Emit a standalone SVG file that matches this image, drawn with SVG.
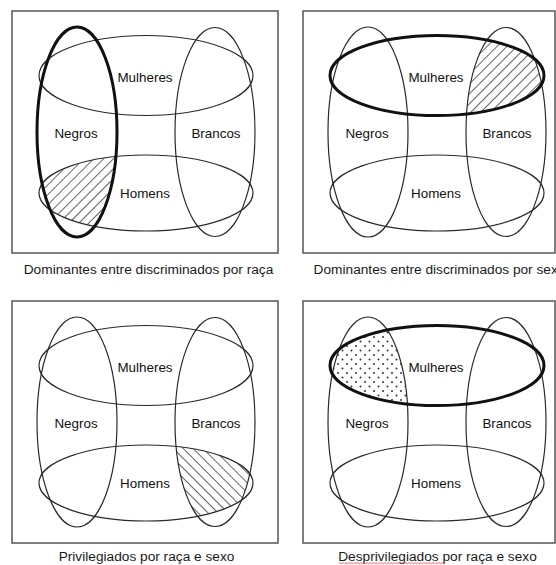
<svg xmlns="http://www.w3.org/2000/svg" width="556" height="565" viewBox="0 0 556 565">
  <style>
    .frame { fill: none; stroke: #555; stroke-width: 1.5; }
    .set { fill: none; stroke: #2a2a2a; stroke-width: 1.2; }
    .bold { fill: none; stroke: #111; stroke-width: 3; }
    .lbl { font-family: "Liberation Sans", Arial, sans-serif; font-size: 13.4px; fill: #111; text-anchor: middle; }
    .cap { font-family: "Liberation Sans", Arial, sans-serif; font-size: 13.7px; fill: #1a1a1a; text-anchor: middle; }
  </style>
  <defs>
    <!-- "/" hatching -->
    <pattern id="hatch-fwd" width="7" height="7" patternUnits="userSpaceOnUse" patternTransform="rotate(45)">
      <line x1="3.5" y1="0" x2="3.5" y2="7" stroke="#555" stroke-width="0.9"/>
    </pattern>
    <!-- "\" hatching -->
    <pattern id="hatch-back" width="7" height="7" patternUnits="userSpaceOnUse" patternTransform="rotate(-45)">
      <line x1="3.5" y1="0" x2="3.5" y2="7" stroke="#555" stroke-width="0.9"/>
    </pattern>
    <!-- dotted fill -->
    <pattern id="dots" width="9" height="9" patternUnits="userSpaceOnUse">
      <circle cx="2" cy="2" r="1" fill="#333"/>
      <circle cx="6.5" cy="6.5" r="1" fill="#333"/>
    </pattern>
    <clipPath id="clip-negros"><ellipse cx="77" cy="132" rx="40" ry="105"/></clipPath>
    <clipPath id="clip-brancos"><ellipse cx="215" cy="132" rx="40" ry="104.5"/></clipPath>
  </defs>

  <!-- Top left: Negros set highlighted, Negros ∩ Homens hatched -->
  <g id="panel-raca">
    <rect class="frame" x="12" y="11" width="266" height="242"/>
    <ellipse cx="146" cy="193" rx="107" ry="38" fill="url(#hatch-fwd)" clip-path="url(#clip-negros)"/>
    <g id="raca-mulheres"><ellipse class="set" cx="146" cy="75.5" rx="107" ry="40"/><text class="lbl" x="145" y="82">Mulheres</text></g>
    <g id="raca-homens"><ellipse class="set" cx="146" cy="193" rx="107" ry="38"/><text class="lbl" x="145" y="198">Homens</text></g>
    <g id="raca-brancos"><ellipse class="set" cx="215" cy="132" rx="40" ry="104.5"/><text class="lbl" x="216" y="138">Brancos</text></g>
    <g id="raca-negros"><ellipse class="bold" cx="77" cy="132" rx="40" ry="105"/><text class="lbl" x="76" y="138">Negros</text></g>
    <text class="cap" x="148.5" y="273.5">Dominantes entre discriminados por raça</text>
  </g>

  <!-- Top right: Mulheres set highlighted, Brancos ∩ Mulheres hatched -->
  <g id="panel-sexo" transform="translate(291,0)">
    <rect class="frame" x="12" y="11" width="252" height="242"/>
    <ellipse cx="146" cy="75.5" rx="107" ry="40" fill="url(#hatch-fwd)" clip-path="url(#clip-brancos)"/>
    <g id="sexo-negros"><ellipse class="set" cx="77" cy="132" rx="40" ry="105"/><text class="lbl" x="76" y="138">Negros</text></g>
    <g id="sexo-brancos"><ellipse class="set" cx="215" cy="132" rx="40" ry="104.5"/><text class="lbl" x="216" y="138">Brancos</text></g>
    <g id="sexo-homens"><ellipse class="set" cx="146" cy="193" rx="107" ry="38"/><text class="lbl" x="145" y="198">Homens</text></g>
    <g id="sexo-mulheres"><ellipse class="bold" cx="146" cy="75.5" rx="107" ry="40"/><text class="lbl" x="145" y="82">Mulheres</text></g>
    <text class="cap" x="148.5" y="273.5">Dominantes entre discriminados por sexo</text>
  </g>

  <!-- Bottom left: Brancos ∩ Homens hatched -->
  <g id="panel-privilegiados" transform="translate(0,290)">
    <rect class="frame" x="12" y="11" width="266" height="242"/>
    <ellipse cx="146" cy="193" rx="107" ry="38" fill="url(#hatch-back)" clip-path="url(#clip-brancos)"/>
    <g id="priv-mulheres"><ellipse class="set" cx="146" cy="75.5" rx="107" ry="40"/><text class="lbl" x="145" y="82">Mulheres</text></g>
    <g id="priv-homens"><ellipse class="set" cx="146" cy="193" rx="107" ry="38"/><text class="lbl" x="145" y="198">Homens</text></g>
    <g id="priv-negros"><ellipse class="set" cx="77" cy="132" rx="40" ry="105"/><text class="lbl" x="76" y="138">Negros</text></g>
    <g id="priv-brancos"><ellipse class="set" cx="215" cy="132" rx="40" ry="104.5"/><text class="lbl" x="216" y="138">Brancos</text></g>
    <text class="cap" x="146.5" y="271">Privilegiados por raça e sexo</text>
  </g>

  <!-- Bottom right: Mulheres highlighted, Negros ∩ Mulheres dotted -->
  <g id="panel-desprivilegiados" transform="translate(291,290)">
    <rect class="frame" x="12" y="11" width="252" height="242"/>
    <ellipse cx="146" cy="75.5" rx="107" ry="40" fill="url(#dots)" clip-path="url(#clip-negros)"/>
    <g id="desp-negros"><ellipse class="set" cx="77" cy="132" rx="40" ry="105"/><text class="lbl" x="76" y="138">Negros</text></g>
    <g id="desp-brancos"><ellipse class="set" cx="215" cy="132" rx="40" ry="104.5"/><text class="lbl" x="216" y="138">Brancos</text></g>
    <g id="desp-homens"><ellipse class="set" cx="146" cy="193" rx="107" ry="38"/><text class="lbl" x="145" y="198">Homens</text></g>
    <g id="desp-mulheres"><ellipse class="bold" cx="146" cy="75.5" rx="107" ry="40"/><text class="lbl" x="145" y="82">Mulheres</text></g>
    <text class="cap" x="146.5" y="271">Desprivilegiados por raça e sexo</text>
    <!-- spell-check squiggle under the first word -->
    <path d="M47.5 273.8 l1.5 -1.2 l1.5 1.2 l1.5 -1.2 l1.5 1.2 l1.5 -1.2 l1.5 1.2 l1.5 -1.2 l1.5 1.2 l1.5 -1.2 l1.5 1.2 l1.5 -1.2 l1.5 1.2 l1.5 -1.2 l1.5 1.2 l1.5 -1.2 l1.5 1.2 l1.5 -1.2 l1.5 1.2 l1.5 -1.2 l1.5 1.2 l1.5 -1.2 l1.5 1.2 l1.5 -1.2 l1.5 1.2 l1.5 -1.2 l1.5 1.2 l1.5 -1.2 l1.5 1.2 l1.5 -1.2 l1.5 1.2 l1.5 -1.2 l1.5 1.2 l1.5 -1.2 l1.5 1.2 l1.5 -1.2 l1.5 1.2 l1.5 -1.2 l1.5 1.2 l1.5 -1.2 l1.5 1.2 l1.5 -1.2 l1.5 1.2 l1.5 -1.2 l1.5 1.2 l1.5 -1.2 l1.5 1.2 l1.5 -1.2 l1.5 1.2 l1.5 -1.2 l1.5 1.2 l1.5 -1.2 l1.5 1.2 l1.5 -1.2 l1.5 1.2 l1.5 -1.2 l1.5 1.2 l1.5 -1.2 l1.5 1.2 l1.5 -1.2 l1.5 1.2 l1.5 -1.2 l1.5 1.2 l1.5 -1.2 l1.5 1.2 l1.5 -1.2 l1.5 1.2 l1.5 -1.2 l1.5 1.2 l1.5 -1.2 l1.5 1.2" fill="none" stroke="#e04848" stroke-width="0.8"/>
  </g>
</svg>
